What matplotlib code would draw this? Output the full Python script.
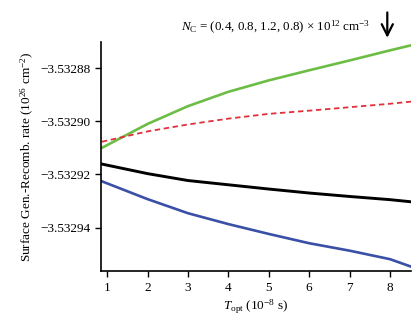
import matplotlib
matplotlib.use("Agg")
import matplotlib.pyplot as plt

plt.rcParams['font.family'] = ['Liberation Serif', 'DejaVu Serif']
plt.rcParams['mathtext.fontset'] = 'custom'
plt.rcParams['mathtext.rm'] = 'Liberation Serif'
plt.rcParams['mathtext.it'] = 'Liberation Serif:italic'
plt.rcParams['axes.unicode_minus'] = True

# data
t_opt = [0.87, 2, 3, 4, 5, 6, 7, 8, 8.52]
green = [-3.5329100, -3.5329010, -3.5328943, -3.5328889, -3.5328846, -3.5328808, -3.5328771, -3.5328733, -3.5328714]
red = [-3.5329077, -3.5329038, -3.5329012, -3.5328990, -3.5328972, -3.5328960, -3.5328947, -3.5328934, -3.5328926]
black = [-3.5329161, -3.5329197, -3.5329223, -3.5329239, -3.5329255, -3.5329270, -3.5329283, -3.5329295, -3.5329303]
blue = [-3.5329226, -3.5329293, -3.5329346, -3.5329387, -3.5329424, -3.5329459, -3.5329487, -3.5329519, -3.5329547]

yticks = [-3.53288, -3.53290, -3.53292, -3.53294]
ylabels = ['\u22123.53288', '\u22123.53290', '\u22123.53292', '\u22123.53294']
xticks = [1, 2, 3, 4, 5, 6, 7, 8]

fig = plt.figure(figsize=(4.16, 3.22), dpi=100)
ax = fig.add_axes([0.243, 0.158, 0.745, 0.712])

ax.plot(t_opt, green, color='#6cbd45', lw=1.9)
ax.plot(t_opt, red, color='#e0303a', lw=1.3, ls=(0, (3, 2)))
ax.plot(t_opt, black, color='black', lw=2.1)
ax.plot(t_opt, blue, color='#3a4fa6', lw=1.9)

ax.set_xlim(0.85, 8.52)
ax.set_ylim(-3.5329564, -3.5328701)
ax.set_xticks(xticks)
ax.set_xticklabels([str(v) for v in xticks])
ax.set_yticks(yticks)
ax.set_yticklabels(ylabels)
ax.tick_params(labelsize=9.5, length=4, width=1, direction='out')

for s in ['top', 'right']:
    ax.spines[s].set_visible(False)
for s in ['left', 'bottom']:
    ax.spines[s].set_linewidth(1.2)

ax.set_xlabel(r'$T_{\mathrm{opt}}$ (10$^{-8}$ s)', fontsize=9.5, labelpad=3)
ax.set_ylabel(r'Surface Gen.-Recomb. rate (10$^{26}$ cm$^{-2}$)', fontsize=9.5, labelpad=3)

fig.text(0.662, 0.915, r'$N_{\mathrm{C}}$ = (0.4, 0.8, 1.2, 0.8) $\times$ 10$^{12}$ cm$^{-3}$',
         fontsize=9.4, ha='center', va='center')
ax.annotate('', xy=(0.931, 0.874), xytext=(0.931, 0.97), xycoords='figure fraction',
            arrowprops=dict(arrowstyle='->', color='black', lw=1.6, mutation_scale=20))

fig.savefig('out.png', dpi=100)
